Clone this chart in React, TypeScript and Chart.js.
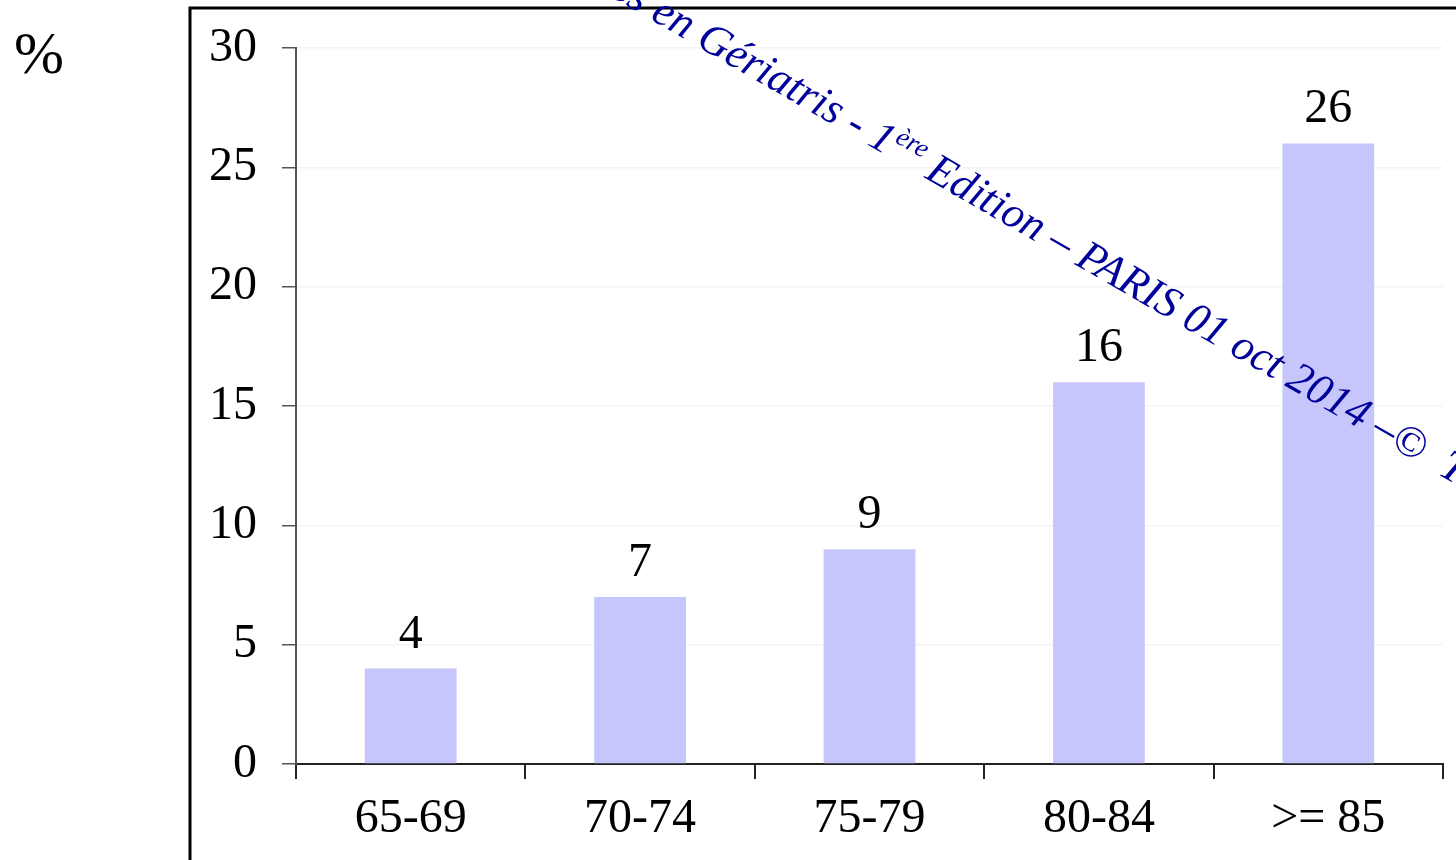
import React, { useEffect, useRef } from "react";
import { Chart, registerables } from "chart.js";

Chart.register(...registerables);

// Age groups and prevalence (%)
const categories = ["65-69", "70-74", "75-79", "80-84", ">= 85"];
const values = [4, 7, 9, 16, 26];
const yMin = 0;
const yMax = 30;
const yStep = 5;

const unitLabel = "%";
const watermarkBefore = "Journées en Gériatris - 1";
const watermarkSup = "ère";
const watermarkAfter = " Edition – PARIS 01 oct 2014 –©  Tous droits réservés";

const SERIF = '"Liberation Serif", "Times New Roman", Times, serif';
const BAR_COLOR = "#c6c6fc";
const INK = "#000000";
const WATERMARK_COLOR = "#00009a";

// Outer frame and unit sign behind the chart
const framePlugin = {
  id: "frame",
  beforeDraw(chart: any) {
    const ctx = chart.ctx;
    ctx.save();
    ctx.fillStyle = "#ffffff";
    ctx.fillRect(0, 0, chart.width, chart.height);
    ctx.strokeStyle = "#000000";
    ctx.lineWidth = 3;
    ctx.strokeRect(190, 8, 2000, 2000);
    ctx.fillStyle = INK;
    ctx.font = `60px ${SERIF}`;
    ctx.textBaseline = "alphabetic";
    ctx.textAlign = "left";
    ctx.fillText(unitLabel, 14, 73);
    ctx.restore();
  },
};

// Numbers above each bar
const valueLabelPlugin = {
  id: "valueLabels",
  afterDatasetsDraw(chart: any) {
    const ctx = chart.ctx;
    const meta = chart.getDatasetMeta(0);
    ctx.save();
    ctx.fillStyle = INK;
    ctx.font = `48px ${SERIF}`;
    ctx.textAlign = "center";
    ctx.textBaseline = "alphabetic";
    meta.data.forEach((bar: any, i: number) => {
      ctx.fillText(String(values[i]), bar.x, bar.y - 21);
    });
    ctx.restore();
  },
};

// Diagonal copyright line across the plot
const watermarkPlugin = {
  id: "watermark",
  afterDraw(chart: any) {
    const ctx = chart.ctx;
    const size = 44;
    const mainFont = `italic ${size}px ${SERIF}`;
    const supFont = `italic ${Math.round(size * 0.62)}px ${SERIF}`;
    const angle = (30 * Math.PI) / 180;
    ctx.save();
    ctx.font = mainFont;
    const wBefore = ctx.measureText(watermarkBefore).width;
    const wEdition = ctx.measureText(" Edition").width;
    ctx.font = supFont;
    const wSup = ctx.measureText(watermarkSup).width;
    // end of the word "Edition" sits on this baseline point
    const ax = 1036;
    const ay = 242;
    const along = wBefore + wSup + wEdition;
    const sx = ax - along * Math.cos(angle);
    const sy = ay - along * Math.sin(angle);
    ctx.translate(sx, sy);
    ctx.rotate(angle);
    ctx.fillStyle = WATERMARK_COLOR;
    ctx.textBaseline = "alphabetic";
    ctx.textAlign = "left";
    ctx.font = mainFont;
    ctx.fillText(watermarkBefore, 0, 0);
    ctx.font = supFont;
    ctx.fillText(watermarkSup, wBefore + 1, -size * 0.36);
    ctx.font = mainFont;
    ctx.fillText(watermarkAfter, wBefore + wSup, 0);
    ctx.restore();
  },
};

export default function App() {
  const canvasRef = useRef<HTMLCanvasElement | null>(null);

  useEffect(() => {
    if (!canvasRef.current) return;
    const chart = new Chart(canvasRef.current, {
      type: "bar",
      data: {
        labels: categories,
        datasets: [
          {
            data: values,
            backgroundColor: BAR_COLOR,
            borderWidth: 0,
            barPercentage: 0.4,
            categoryPercentage: 1,
          },
        ],
      },
      options: {
        responsive: false,
        animation: false,
        devicePixelRatio: 1,
        layout: { padding: { left: 0, top: 48, right: 13, bottom: 0 } },
        plugins: {
          legend: { display: false },
          tooltip: { enabled: false },
          title: { display: false },
        },
        scales: {
          x: {
            offset: true,
            grid: {
              offset: true,
              drawOnChartArea: false,
              drawTicks: true,
              tickLength: 15,
              tickColor: "#222222",
              lineWidth: 2,
            },
            border: { display: true, color: "#222222", width: 2 },
            ticks: {
              color: INK,
              font: { family: SERIF, size: 48 },
              padding: 12,
              maxRotation: 0,
              autoSkip: false,
            },
            afterFit: (scale: any) => {
              scale.height = 96;
            },
          },
          y: {
            min: yMin,
            max: yMax,
            grid: {
              color: "#f4f4f4",
              lineWidth: 1.5,
              tickLength: 14,
              tickColor: "#555555",
            },
            border: { display: true, color: "#555555", width: 2 },
            ticks: {
              stepSize: yStep,
              color: INK,
              font: { family: SERIF, size: 48 },
              padding: 25,
            },
            afterFit: (scale: any) => {
              scale.width = 296;
              scale.paddingTop = 0;
              scale.paddingBottom = 0;
            },
          },
        },
      },
      plugins: [framePlugin, valueLabelPlugin, watermarkPlugin],
    });
    return () => chart.destroy();
  }, []);

  return (
    <div style={{ position: "fixed", left: 0, top: 0, width: 1456, height: 860, background: "#fff" }}>
      <canvas ref={canvasRef} width={1456} height={860} style={{ display: "block" }} />
    </div>
  );
}
